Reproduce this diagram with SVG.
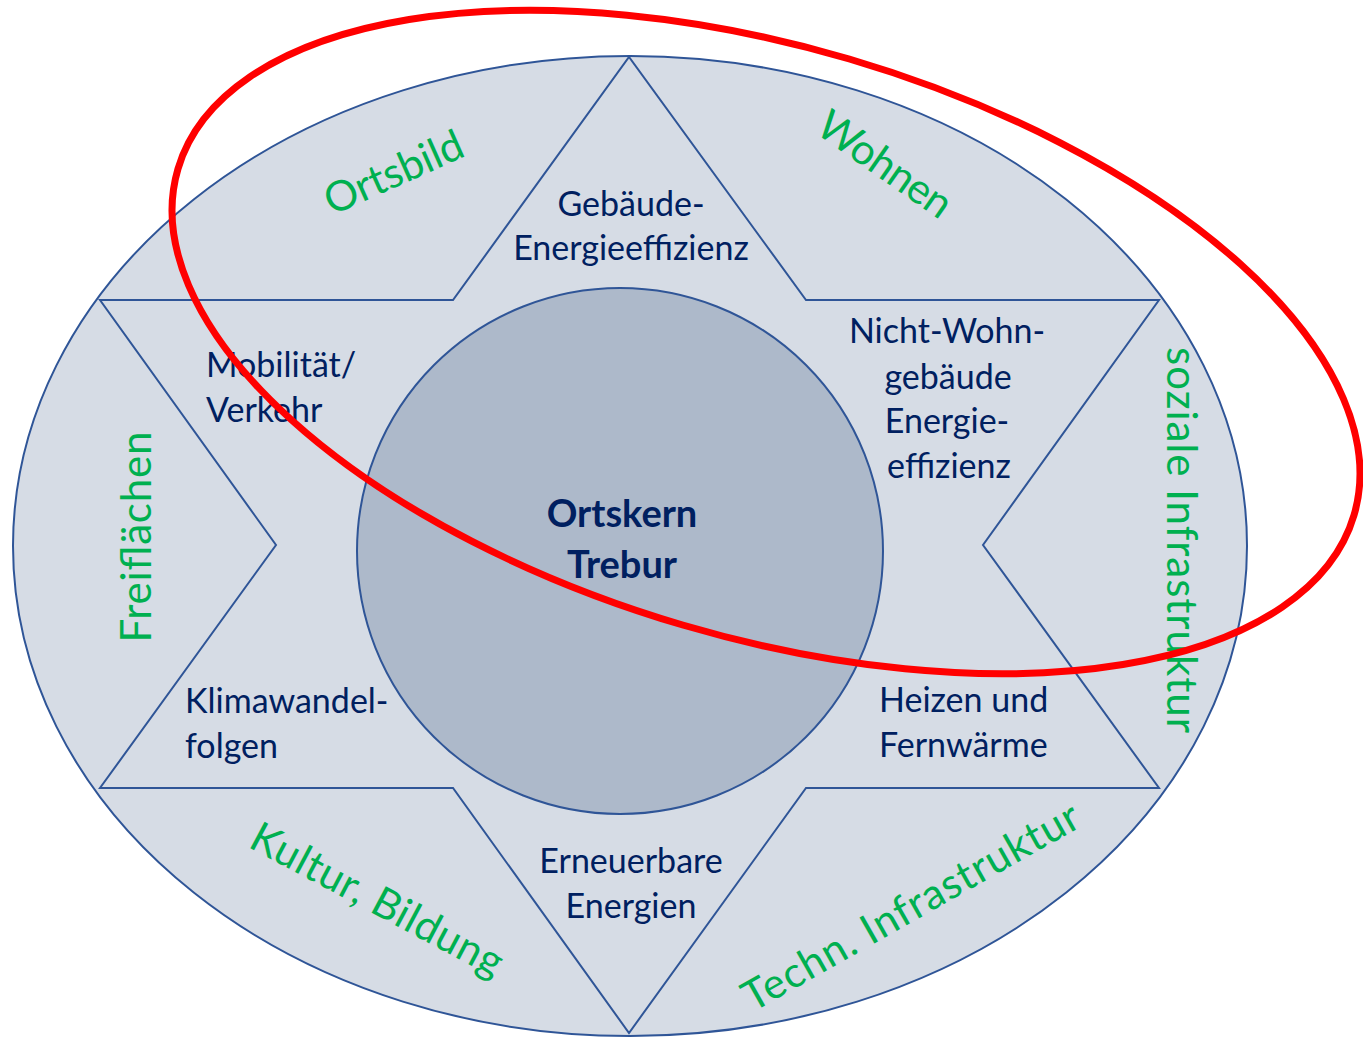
<svg xmlns="http://www.w3.org/2000/svg" width="1363" height="1040" viewBox="0 0 1363 1040">
<style>
.shape{fill:#D6DCE5;stroke:#2F5597;stroke-width:2}
.core{fill:#ADB9CA;stroke:#2F5597;stroke-width:2}
.lbl{font-family:Lato,"Liberation Sans",sans-serif;font-size:34px;fill:#002060}
.mid{text-anchor:middle}
.grn{font-family:Lato,"Liberation Sans",sans-serif;font-size:42px;fill:#00B050;text-anchor:middle;dominant-baseline:central}
.bold{font-family:Lato,"Liberation Sans",sans-serif;font-size:38px;font-weight:bold;fill:#002060;text-anchor:middle}
</style>
<rect width="1363" height="1040" fill="#FFFFFF"/>
<g id="outer-ellipse"><ellipse class="shape" cx="630" cy="546" rx="617" ry="490"/></g>
<g id="star"><polygon class="shape" style="fill:none" points="100,300 453,300 629,57 806,300 1159,300 983,545 1159,788 806,788 629,1033 453,788 100,788 276,545"/></g>
<g id="center"><circle class="core" cx="620" cy="551" r="263"/>
<text class="bold" x="622" y="527">Ortskern</text><text class="bold" x="622" y="578">Trebur</text></g>
<g id="gebaeude"><text class="lbl mid" x="631" y="216">Gebäude-</text><text class="lbl mid" x="631" y="260">Energieeffizienz</text></g>
<g id="nichtwohn"><text class="lbl mid" x="947" y="343">Nicht-Wohn-</text><text class="lbl mid" x="948" y="389">gebäude</text><text class="lbl mid" x="947" y="433">Energie-</text><text class="lbl mid" x="949" y="478">effizienz</text></g>
<g id="mobilitaet"><text class="lbl" x="206" y="377">Mobilität/</text><text class="lbl" x="206" y="422">Verkehr</text></g>
<g id="klima"><text class="lbl" x="185" y="713">Klimawandel-</text><text class="lbl" x="185" y="758">folgen</text></g>
<g id="heizen"><text class="lbl" x="879" y="712">Heizen und</text><text class="lbl" x="879" y="757">Fernwärme</text></g>
<g id="erneuerbar"><text class="lbl mid" x="631" y="873">Erneuerbare</text><text class="lbl mid" x="631" y="918">Energien</text></g>
<g id="ortsbild"><text class="grn" transform="translate(393,171) rotate(-24)" textLength="148">Ortsbild</text></g>
<g id="wohnen"><text class="grn" transform="translate(886,163) rotate(35)" textLength="154">Wohnen</text></g>
<g id="sozial"><text class="grn" transform="translate(1183,540) rotate(90)" textLength="386">soziale Infrastruktur</text></g>
<g id="freiflaechen"><text class="grn" transform="translate(135,537) rotate(-90)" textLength="211">Freiflächen</text></g>
<g id="kultur"><text class="grn" transform="translate(378,898) rotate(28)" textLength="280">Kultur, Bildung</text></g>
<g id="technik"><text class="grn" transform="translate(910,905) rotate(-29.5)" textLength="380">Techn. Infrastruktur</text></g>
<g id="connectors"></g>
<g id="highlight"><ellipse cx="766" cy="342" rx="613" ry="295" transform="rotate(16.4 766 342)" fill="none" stroke="#FF0000" stroke-width="7"/></g>
</svg>
